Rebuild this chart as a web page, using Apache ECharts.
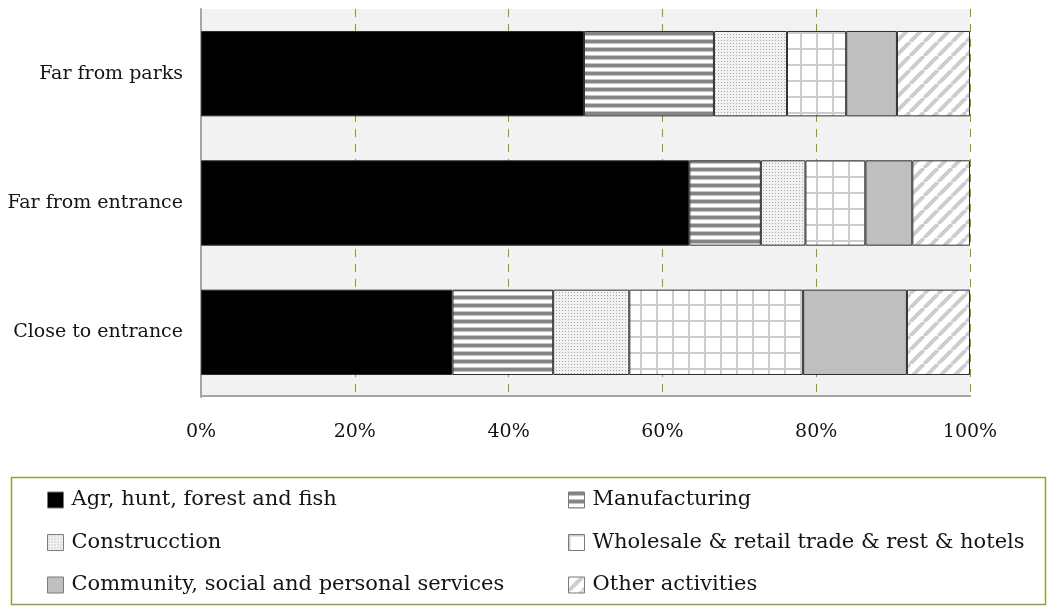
<!DOCTYPE html>
<html>
<head>
<meta charset="utf-8">
<script src="https://cdn.jsdelivr.net/npm/echarts@6/dist/echarts.min.js"></script>
<style>
  html, body { margin: 0; padding: 0; background: #fff; }
  #chart { width: 1052px; height: 607px; }
</style>
</head>
<body>
<div id="chart"></div>
<script>
// Location groups (bottom to top on the category axis)
const categories = ['Close to entrance', 'Far from entrance', 'Far from parks'];

// Share of firms by activity, in percent
const agrHuntForestFish = [32.7, 63.5, 49.8];
const manufacturing     = [13.1, 9.3, 16.9];
const construction      = [9.9, 5.8, 9.5];
const wholesaleRetail   = [22.6, 7.8, 7.7];
const communityServices = [13.5, 6.1, 6.6];
const otherActivities   = [8.2, 7.5, 9.5];

const seriesNames = [
  'Agr, hunt, forest and fish',
  'Manufacturing',
  'Construcction',
  'Wholesale & retail trade & rest & hotels',
  'Community, social and personal services',
  'Other activities'
];
const seriesData = [agrHuntForestFish, manufacturing, construction,
                    wholesaleRetail, communityServices, otherActivities];

const xTicks = [0, 20, 40, 60, 80, 100];

// --- fill patterns drawn on small canvases ---
function tile(w, h, draw) {
  const c = document.createElement('canvas');
  c.width = w; c.height = h;
  draw(c.getContext('2d'), w, h);
  return { image: c, repeat: 'repeat' };
}
const hStripes = tile(8, 8, (g, w) => {
  g.fillStyle = '#ffffff'; g.fillRect(0, 0, w, 8);
  g.fillStyle = '#858585'; g.fillRect(0, 0, w, 3);
  g.fillStyle = '#c4c4c4'; g.fillRect(0, 3, w, 1); g.fillRect(0, 7, w, 1);
});
const dots = tile(3, 3, (g) => {
  g.fillStyle = '#f2f2f2'; g.fillRect(0, 0, 3, 3);
  g.fillStyle = '#a9a9a9'; g.fillRect(1, 1, 1, 1);
});
const grid = tile(16, 16, (g) => {
  g.fillStyle = '#ffffff'; g.fillRect(0, 0, 16, 16);
  g.fillStyle = '#cccccc'; g.fillRect(0, 0, 2, 16); g.fillRect(0, 0, 16, 2);
});
const diag = tile(14, 14, (g) => {
  g.fillStyle = '#ffffff'; g.fillRect(0, 0, 14, 14);
  g.strokeStyle = '#cdcdcd'; g.lineWidth = 4;
  for (let k = -14; k <= 28; k += 14) {
    g.beginPath(); g.moveTo(k, 14); g.lineTo(k + 14, 0); g.stroke();
  }
});
const fills = ['#000000', hStripes, dots, grid, '#bfbfbf', diag];

const series = seriesNames.map((name, i) => ({
  name: name,
  type: 'bar',
  stack: 'total',
  barCategoryGap: '34%',
  data: seriesData[i],
  itemStyle: { color: fills[i], borderColor: '#2e2e2e', borderWidth: 1 },
  emphasis: { disabled: true },
  silent: true
}));

const fontFam = '"DejaVu Serif", serif';
const legendText = { fontFamily: fontFam, fontSize: 21, color: '#141414',
                     lineHeight: 26, padding: [0, 0, 0, 3] };
function legendCol(names, left) {
  return {
    orient: 'vertical', left: left, top: 487, height: 118,
    padding: 0,
    itemWidth: 16, itemHeight: 16, itemGap: 16.5,
    icon: 'rect', selectedMode: false,
    itemStyle: { borderColor: '#7a7a7a', borderWidth: 1 },
    textStyle: legendText,
    data: names
  };
}

const chart = echarts.init(document.getElementById('chart'), null, { renderer: 'canvas' });
chart.setOption({
  animation: false,
  grid: {
    left: 201, right: 82, top: 9, bottom: 210,
    show: true, backgroundColor: '#f2f2f2', borderWidth: 0
  },
  xAxis: {
    type: 'value', min: 0, max: 100, interval: 20,
    axisLine: { show: false },
    axisTick: { show: false },
    axisLabel: {
      formatter: v => xTicks.includes(v) ? v + '%' : '',
      fontFamily: fontFam, fontSize: 19, color: '#141414', margin: 26
    },
    splitLine: { show: true, lineStyle: { color: '#999900', type: [8, 7], width: 1 } }
  },
  yAxis: {
    type: 'category', data: categories,
    axisLine: { show: true, lineStyle: { color: '#a6a6a6', width: 2 } },
    axisTick: { show: false },
    axisLabel: { fontFamily: fontFam, fontSize: 19, color: '#141414', margin: 18 }
  },
  legend: [
    legendCol([seriesNames[0], seriesNames[2], seriesNames[4]], 47),
    legendCol([seriesNames[1], seriesNames[3], seriesNames[5]], 568)
  ],
  graphic: [
    { type: 'rect', shape: { x: 200, y: 396, width: 771, height: 0 },
      style: { stroke: '#a6a6a6', lineWidth: 2 }, silent: true },
    { type: 'rect', shape: { x: 11.5, y: 477.5, width: 1034, height: 127 },
      style: { fill: 'none', stroke: '#9c9c3a', lineWidth: 1.5 }, silent: true }
  ],
  series: series
});
</script>
</body>
</html>
